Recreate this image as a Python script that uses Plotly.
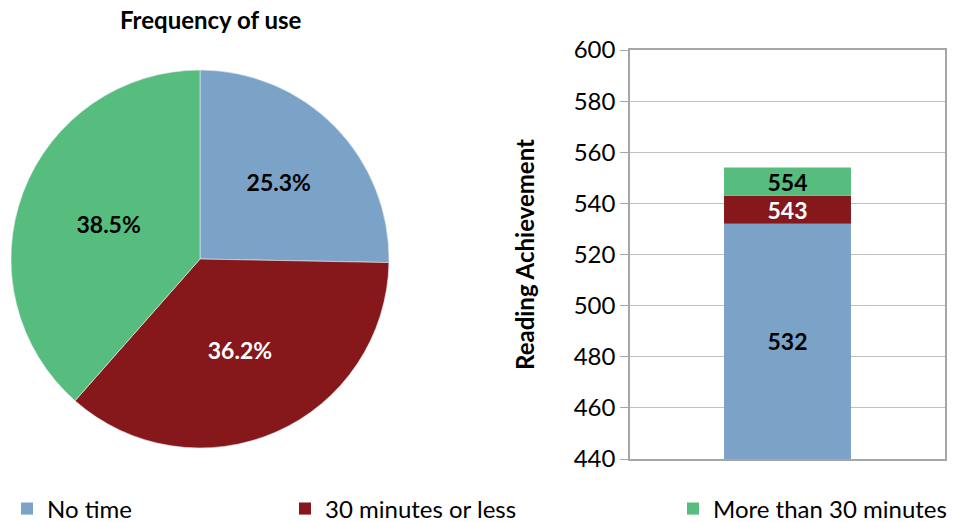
import plotly.graph_objects as go

# Data
categories = ["No time", "30 minutes or less", "More than 30 minutes"]
share_pct = [25.3, 36.2, 38.5]
reading_scores = [532, 543, 554]
axis_min, axis_max = 440, 600

colors = ["#7BA3C7", "#86181C", "#56BD7E"]
pie_text_colors = ["#000000", "#FFFFFF", "#000000"]
bar_text_colors = ["#000000", "#FFFFFF", "#000000"]

W, H = 954, 522
FONT = "Lato, 'Open Sans', sans-serif"


def px_x(x):
    return x / W


def px_y(y):
    return 1 - y / H


fig = go.Figure()

# Pie of usage frequency
fig.add_trace(go.Pie(
    labels=categories,
    values=share_pct,
    sort=False,
    direction="clockwise",
    rotation=0,
    marker=dict(colors=colors, line=dict(color="#E8EEF4", width=0.6)),
    texttemplate="%{value:.1f}%",
    textposition="inside",
    insidetextorientation="horizontal",
    textfont=dict(family=FONT, size=23, color=pie_text_colors, weight="bold"),
    domain=dict(x=[px_x(11), px_x(389)], y=[px_y(448), px_y(70)]),
    showlegend=False,
    hoverinfo="label+percent",
))

# Stacked bar: each segment runs from the previous score up to its own score
legends = ["legend", "legend2", "legend3"]
prev = axis_min
for name, score, col, tcol, lg in zip(categories, reading_scores, colors, bar_text_colors, legends):
    fig.add_trace(go.Bar(
        x=["Reading"],
        y=[score - prev],
        base=[prev],
        name=name,
        marker=dict(color=col, line=dict(width=0)),
        text=[str(score)],
        textposition="inside",
        insidetextanchor="middle",
        textangle=0,
        constraintext="none",
        textfont=dict(family=FONT, size=23, color=tcol, weight="bold"),
        width=0.403,
        xaxis="x",
        yaxis="y",
        legend=lg,
    ))
    prev = score

legend_common = dict(
    orientation="h",
    xanchor="left",
    yanchor="middle",
    font=dict(family=FONT, size=24, color="#000000"),
    bgcolor="rgba(0,0,0,0)",
    itemsizing="constant",
    itemwidth=30,
    tracegroupgap=0,
)

fig.update_layout(
    width=W,
    height=H,
    margin=dict(l=0, r=0, t=0, b=0, autoexpand=False),
    paper_bgcolor="white",
    plot_bgcolor="white",
    barmode="overlay",
    font=dict(family=FONT, color="#000000"),
    xaxis=dict(
        domain=[px_x(630), px_x(945)],
        showticklabels=False,
        ticks="",
        showgrid=False,
        showline=True,
        linecolor="#A6A6A6",
        linewidth=1.5,
        mirror=True,
        range=[-0.5, 0.5],
        fixedrange=True,
    ),
    yaxis=dict(
        domain=[px_y(459), px_y(50)],
        range=[axis_min, axis_max],
        dtick=20,
        tick0=axis_min,
        ticks="outside",
        ticklen=8,
        tickcolor="#A6A6A6",
        tickfont=dict(family=FONT, size=24, color="#000000"),
        showgrid=True,
        gridcolor="#BFBFBF",
        gridwidth=1.2,
        showline=True,
        linecolor="#A6A6A6",
        linewidth=1.5,
        mirror=True,
        zeroline=False,
        automargin=False,
        title=dict(
            text="<b>Reading Achievement</b>",
            font=dict(family=FONT, size=24, color="#000000"),
            standoff=32,
        ),
    ),
    legend=dict(x=px_x(7), y=px_y(509), **legend_common),
    legend2=dict(x=px_x(285), y=px_y(509), **legend_common),
    legend3=dict(x=px_x(673), y=px_y(509), **legend_common),
    annotations=[dict(
        text="<b>Frequency of use</b>",
        x=px_x(211), y=px_y(20),
        xref="paper", yref="paper",
        xanchor="center", yanchor="middle",
        showarrow=False,
        font=dict(family=FONT, size=24, color="#000000"),
    )],
)

fig.write_html("out.html")
